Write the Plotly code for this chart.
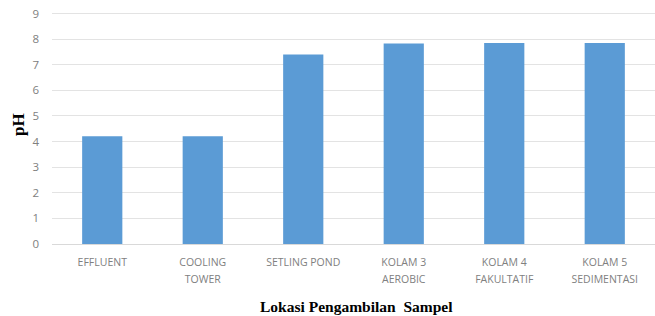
import plotly.graph_objects as go

categories = ["EFFLUENT", "COOLING<br>TOWER", "SETLING POND", "KOLAM 3<br>AEROBIC",
              "KOLAM 4<br>FAKULTATIF", "KOLAM 5<br>SEDIMENTASI"]
ph_values = [4.21, 4.21, 7.40, 7.83, 7.85, 7.85]
y_ticks = [0, 1, 2, 3, 4, 5, 6, 7, 8, 9]

W, H = 655, 316
ML, MR, MT, MB = 52, 0, 11, 72
plot_w = W - ML - MR
plot_h = H - MT - MB

tick_text = ["<span style='font-size:10.5px'>" + c.replace("<br>", "</span><br><span style='font-size:10.5px'>") + "</span>"
             for c in categories]

fig = go.Figure(go.Bar(x=categories, y=ph_values, marker_color="#5B9BD5",
                       marker_line_width=0))

fig.update_layout(
    width=W, height=H,
    margin=dict(l=ML, r=MR, t=MT, b=MB, autoexpand=False),
    paper_bgcolor="white", plot_bgcolor="white",
    bargap=0.6,
    showlegend=False,
    font=dict(family="Open Sans", color="#808080"),
    annotations=[
        dict(text="<b>pH</b>", x=(18 - ML) / plot_w, y=(plot_h + MT - 125) / plot_h,
             xref="paper", yref="paper", showarrow=False, textangle=-90,
             xanchor="center", yanchor="middle",
             font=dict(family="Liberation Serif", size=17, color="black")),
        dict(text="<b>Lokasi Pengambilan  Sampel</b>", x=(356 - ML) / plot_w,
             y=(plot_h + MT - 306) / plot_h, xref="paper", yref="paper",
             xanchor="center", yanchor="middle",
             showarrow=False, font=dict(family="Liberation Serif", size=15.5, color="black")),
    ],
)

fig.update_yaxes(range=[0, 9.1], tickvals=y_ticks, showgrid=True, gridcolor="#e3e3e3",
                 gridwidth=1, zeroline=False, showline=False, automargin=False,
                 ticklabeloverflow="allow",
                 tickfont=dict(size=11.5, color="#808080"), ticklabelstandoff=12)
fig.update_xaxes(showline=True, linecolor="#d9d9d9", linewidth=1, automargin=False,
                 tickvals=categories, ticktext=tick_text,
                 tickfont=dict(size=13, color="#808080"), ticklabelstandoff=5)

fig.write_html("out.html", config={"displayModeBar": False},
               post_script="document.body.style.margin='0';document.body.style.overflow='hidden';")
